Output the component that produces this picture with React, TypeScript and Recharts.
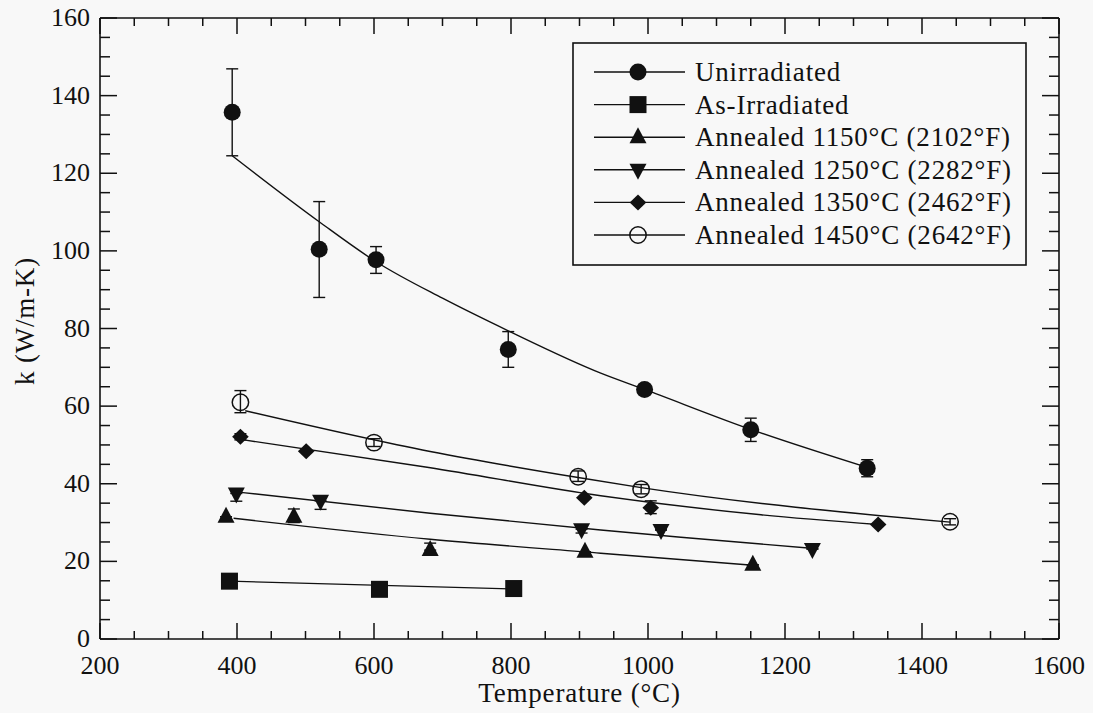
import React from 'react';
import { ComposedChart, Line, Scatter, ErrorBar, XAxis, YAxis, Legend, Label } from 'recharts';

// measured points (temperature °C, k W/m-K), err = [below, above]
const unirradiated = [
  { x: 393, y: 135.7, err: [11.2, 11.2] },
  { x: 520, y: 100.4, err: [12.4, 12.3] },
  { x: 603, y: 97.7, err: [3.5, 3.4] },
  { x: 796, y: 74.6, err: [4.6, 4.6] },
  { x: 995, y: 64.3, err: [1, 1] },
  { x: 1150, y: 53.9, err: [3, 3] },
  { x: 1320, y: 44.0, err: [2.2, 2.2] },
];
const asIrradiated = [
  { x: 389, y: 14.9, err: [0, 0] },
  { x: 608, y: 12.8, err: [0, 0] },
  { x: 804, y: 13.0, err: [0, 0] },
];
const annealed1150 = [
  { x: 384, y: 31.5, err: [0, 0] },
  { x: 483, y: 31.5, err: [1.5, 2] },
  { x: 682, y: 22.9, err: [0, 1.8] },
  { x: 908, y: 22.5, err: [0, 0] },
  { x: 1153, y: 19.1, err: [0, 0] },
];
const annealed1250 = [
  { x: 399, y: 37.5, err: [2, 0] },
  { x: 522, y: 35.6, err: [2.2, 0] },
  { x: 903, y: 28.3, err: [1, 0] },
  { x: 1019, y: 28.1, err: [0, 0] },
  { x: 1240, y: 23.2, err: [0, 0] },
];
const annealed1350 = [
  { x: 405, y: 52.1, err: [0.8, 0.8] },
  { x: 501, y: 48.4, err: [0, 0] },
  { x: 907, y: 36.4, err: [0, 0] },
  { x: 1004, y: 33.8, err: [1.5, 1.8] },
  { x: 1336, y: 29.5, err: [0, 0] },
];
const annealed1450 = [
  { x: 405, y: 61.0, err: [2.7, 3.0] },
  { x: 600, y: 50.6, err: [1, 1] },
  { x: 898, y: 41.8, err: [1.2, 1.5] },
  { x: 990, y: 38.6, err: [1.2, 1.2] },
  { x: 1441, y: 30.2, err: [0.8, 0.8] },
];

// fitted curves
const unirradiatedFit = [
  { x: 393, y: 124.5 }, { x: 520, y: 107.5 }, { x: 603, y: 97.2 }, { x: 700, y: 87.8 },
  { x: 796, y: 79.4 }, { x: 931, y: 68.5 }, { x: 995, y: 64.3 }, { x: 1150, y: 54.0 },
  { x: 1320, y: 44.2 },
];
const asIrradiatedFit = [{ x: 389, y: 14.9 }, { x: 804, y: 12.9 }];
const annealed1150Fit = [
  { x: 395, y: 31.1 }, { x: 682, y: 25.7 }, { x: 931, y: 22.1 }, { x: 1153, y: 19.0 },
];
const annealed1250Fit = [
  { x: 405, y: 37.8 }, { x: 682, y: 32.4 }, { x: 931, y: 28.1 }, { x: 1048, y: 26.2 }, { x: 1238, y: 23.4 },
];
const annealed1350Fit = [
  { x: 410, y: 51.3 }, { x: 680, y: 44.2 }, { x: 931, y: 36.9 }, { x: 1165, y: 32.0 }, { x: 1336, y: 29.5 },
];
const annealed1450Fit = [
  { x: 412, y: 58.8 }, { x: 682, y: 48.3 }, { x: 898, y: 41.6 }, { x: 990, y: 39.0 }, { x: 1441, y: 30.1 },
];

const seriesNames = [
  'Unirradiated',
  'As-Irradiated',
  'Annealed 1150°C (2102°F)',
  'Annealed 1250°C (2282°F)',
  'Annealed 1350°C (2462°F)',
  'Annealed 1450°C (2642°F)',
];
const markerKinds = ['circle', 'square', 'up', 'down', 'diamond', 'open'];

const xTicks = [200, 250, 300, 350, 400, 450, 500, 550, 600, 650, 700, 750, 800, 850, 900, 950, 1000,
  1050, 1100, 1150, 1200, 1250, 1300, 1350, 1400, 1450, 1500, 1550, 1600];
const yTicks = [0, 5, 10, 15, 20, 25, 30, 35, 40, 45, 50, 55, 60, 65, 70, 75, 80, 85, 90, 95, 100,
  105, 110, 115, 120, 125, 130, 135, 140, 145, 150, 155, 160];

const INK = '#111';
const BG = '#f8f8f8';
const FONT = '"Liberation Serif", "Times New Roman", serif';

const Marker = ({ kind, cx, cy }: { kind: string; cx: number; cy: number }) => {
  switch (kind) {
    case 'circle':
      return <circle cx={cx} cy={cy} r={8.5} fill={INK} />;
    case 'square':
      return <rect x={cx - 8.5} y={cy - 8.5} width={17} height={17} fill={INK} />;
    case 'up':
      return <polygon points={`${cx},${cy - 10} ${cx + 8.5},${cy + 6} ${cx - 8.5},${cy + 6}`} fill={INK} />;
    case 'down':
      return <polygon points={`${cx - 8.5},${cy - 6} ${cx + 8.5},${cy - 6} ${cx},${cy + 10}`} fill={INK} />;
    case 'diamond':
      return <polygon points={`${cx},${cy - 8} ${cx + 8.3},${cy} ${cx},${cy + 8} ${cx - 8.3},${cy}`} fill={INK} />;
    default:
      return <circle cx={cx} cy={cy} r={8.2} fill="none" stroke={INK} strokeWidth={1.5} />;
  }
};

const BottomTick = ({ x, y, payload }: any) => {
  const major = payload.value % 200 === 0;
  return (
    <g>
      <line x1={x} x2={x} y1={y} y2={y - (major ? 16 : 8)} stroke={INK} strokeWidth={1.5} />
      {major && (
        <text x={x} y={y + 35} textAnchor="middle" fontSize={26} fontFamily={FONT} fill={INK}>
          {payload.value}
        </text>
      )}
    </g>
  );
};

const TopTick = ({ x, y, payload }: any) => {
  const major = payload.value % 200 === 0;
  return <line x1={x} x2={x} y1={y} y2={y + (major ? 16 : 8)} stroke={INK} strokeWidth={1.5} />;
};

const LeftTick = ({ x, y, payload }: any) => {
  const major = payload.value % 20 === 0;
  return (
    <g>
      <line x1={x} x2={x + (major ? 17 : 10)} y1={y} y2={y} stroke={INK} strokeWidth={1.5} />
      {major && (
        <text x={x - 10} y={y + 8} textAnchor="end" fontSize={26} fontFamily={FONT} fill={INK}>
          {payload.value}
        </text>
      )}
    </g>
  );
};

const RightTick = ({ x, y, payload }: any) => {
  const major = payload.value % 20 === 0;
  return <line x1={x} x2={x - (major ? 17 : 10)} y1={y} y2={y} stroke={INK} strokeWidth={1.5} />;
};

const LegendBox = () => (
  <svg width={456} height={226} style={{ display: 'block' }}>
    <rect x={1} y={1} width={453} height={222} fill={BG} stroke={INK} strokeWidth={1.6} />
    {seriesNames.map((name, i) => {
      const cy = 30 + i * 32.6;
      return (
        <g key={name}>
          <line x1={22} x2={113} y1={cy} y2={cy} stroke={INK} strokeWidth={1.4} />
          <Marker kind={markerKinds[i]} cx={66} cy={cy} />
          <text x={123} y={cy + 9} fontSize={27} letterSpacing={0.8} fontFamily={FONT} fill={INK}>
            {name}
          </text>
        </g>
      );
    })}
  </svg>
);

const pointSets = [unirradiated, asIrradiated, annealed1150, annealed1250, annealed1350, annealed1450];
const fitSets = [unirradiatedFit, asIrradiatedFit, annealed1150Fit, annealed1250Fit, annealed1350Fit, annealed1450Fit];

const App = () => {
  return (
    <div style={{ position: 'absolute', left: 0, top: 0, width: 1093, height: 713, background: BG }}>
      <ComposedChart width={1093} height={713} margin={{ top: 17, right: 33, bottom: 0, left: 0 }}>
        <XAxis
          dataKey="x"
          type="number"
          domain={[200, 1600]}
          ticks={xTicks}
          interval={0}
          allowDataOverflow
          height={74}
          tickSize={0}
          tickMargin={0}
          tickLine={false}
          tick={<BottomTick />}
          axisLine={{ stroke: INK, strokeWidth: 1.6 }}
        >
          <Label
            value="Temperature (°C)"
            position="insideBottom"
            offset={11}
            fontSize={27}
            letterSpacing={0.8}
            fontFamily={FONT}
            fill={INK}
          />
        </XAxis>
        {/* mirrored frame: top and right axes with inward ticks, no labels */}
        <XAxis
          xAxisId="top"
          orientation="top"
          dataKey="x"
          type="number"
          domain={[200, 1600]}
          ticks={xTicks}
          interval={0}
          allowDataOverflow
          height={1}
          tickSize={0}
          tickMargin={0}
          tickLine={false}
          tick={<TopTick />}
          axisLine={{ stroke: INK, strokeWidth: 1.6 }}
        />
        <YAxis
          type="number"
          domain={[0, 160]}
          ticks={yTicks}
          interval={0}
          allowDataOverflow
          width={100}
          tickSize={0}
          tickMargin={0}
          tickLine={false}
          tick={<LeftTick />}
          axisLine={{ stroke: INK, strokeWidth: 1.6 }}
        >
          <Label
            content={() => (
              <text
                x={34}
                y={321}
                transform="rotate(-90 34 321)"
                textAnchor="middle"
                fontSize={27}
                letterSpacing={0.8}
                fontFamily={FONT}
                fill={INK}
              >
                k (W/m-K)
              </text>
            )}
          />
        </YAxis>
        <YAxis
          yAxisId="right"
          orientation="right"
          type="number"
          domain={[0, 160]}
          ticks={yTicks}
          interval={0}
          allowDataOverflow
          width={1}
          tickSize={0}
          tickMargin={0}
          tickLine={false}
          tick={<RightTick />}
          axisLine={{ stroke: INK, strokeWidth: 1.6 }}
        />
        <Legend
          layout="horizontal"
          verticalAlign="middle"
          align="center"
          wrapperStyle={{ left: 572, top: 42, width: 456, height: 226 }}
          content={() => <LegendBox />}
        />
        {fitSets.map((fit, i) => (
          <Line
            key={`fit-${i}`}
            data={fit}
            dataKey="y"
            type="monotone"
            // the as-irradiated fit is tied to the frame axes (same domains) so they get drawn
            xAxisId={i === 1 ? 'top' : 0}
            yAxisId={i === 1 ? 'right' : 0}
            stroke={INK}
            strokeWidth={1.4}
            dot={false}
            activeDot={false}
            legendType="none"
            isAnimationActive={false}
          />
        ))}
        {pointSets.map((pts, i) => (
          <Scatter
            key={`pts-${i}`}
            name={seriesNames[i]}
            data={pts}
            dataKey="y"
            legendType="none"
            isAnimationActive={false}
            shape={(p: any) => <Marker kind={markerKinds[i]} cx={p.cx} cy={p.cy} />}
          >
            <ErrorBar dataKey="err" direction="y" width={6} stroke={INK} strokeWidth={1.4} />
          </Scatter>
        ))}
      </ComposedChart>
    </div>
  );
};

export default App;
